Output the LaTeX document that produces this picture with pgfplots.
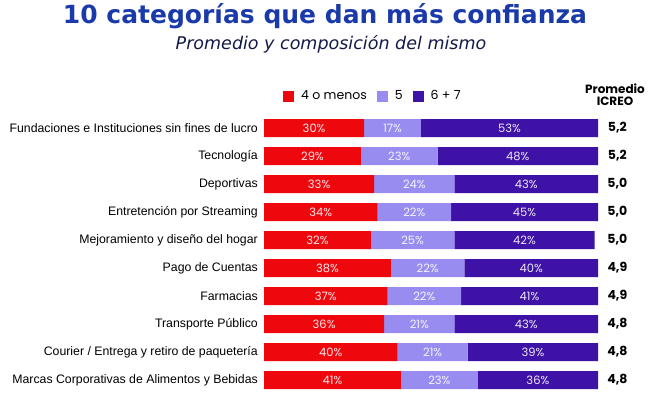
\documentclass[border=0pt]{standalone}
\usepackage{fontspec}
\setmainfont{Liberation Sans}
\newfontfamily\pop{Poppins}
\newfontfamily\dvs{DejaVu Sans}
\usepackage{pgfplots}
\pgfplotsset{compat=1.18}
\definecolor{cRed}{RGB}{238,8,14}
\definecolor{cLight}{RGB}{152,140,240}
\definecolor{cDark}{RGB}{62,18,166}
\definecolor{cTitle}{RGB}{26,58,170}
\definecolor{cSub}{RGB}{20,24,70}
\begin{document}
\begin{tikzpicture}
\path[use as bounding box] (0,0) rectangle (650pt,-400pt);
\node[font=\dvs\bfseries\fontsize{25}{28}\selectfont, text=cTitle] at (325pt,-16pt) {10 categorías que dan más confianza};
\node[font=\dvs\itshape\fontsize{17.5}{20}\selectfont, text=cSub] at (331pt,-44pt) {Promedio y composición del mismo};
\node[font=\pop\bfseries\fontsize{12}{14}\selectfont, align=center] at (615pt,-95pt) {Promedio\\[-2pt]ICREO};
\begin{axis}[
  at={(264pt,-394pt)}, anchor=south west,
  scale only axis, width=334pt, height=280pt,
  xbar stacked, bar width=18pt,
  xmin=0, xmax=100, ymin=-0.5, ymax=9.5, y dir=reverse,
  axis line style={draw=none}, tick style={draw=none}, major tick length=0pt,
  xtick=\empty, ytick={0,...,9},
  yticklabels={Fundaciones e Instituciones sin fines de lucro, Tecnología, Deportivas, Entretención por Streaming, Mejoramiento y diseño del hogar, Pago de Cuentas, Farmacias, Transporte Público, Courier / Entrega y retiro de paquetería, Marcas Corporativas de Alimentos y Bebidas},
  y tick label style={font=\fontsize{12.3}{14}\selectfont, inner sep=0pt, anchor=east, xshift=-6pt},
  legend columns=3,
  legend style={at={(0.326,1.064)}, anchor=center, draw=none, fill=none,
    font=\pop\fontsize{12.5}{14}\selectfont, column sep=5pt, inner sep=0pt,
    /tikz/every even column/.append style={column sep=8pt}},
  legend image code/.code={\fill[#1] (0pt,-5.5pt) rectangle (11pt,5.5pt);},
]
\addplot[fill=cRed, draw=none] coordinates {(30,0) (29,1) (33,2) (34,3) (32,4) (38,5) (37,6) (36,7) (40,8) (41,9)};
\addplot[fill=cLight, draw=none] coordinates {(17,0) (23,1) (24,2) (22,3) (25,4) (22,5) (22,6) (21,7) (21,8) (23,9)};
\addplot[fill=cDark, draw=none] coordinates {(53,0) (48,1) (43,2) (45,3) (42,4) (40,5) (41,6) (43,7) (39,8) (36,9)};
\legend{4 o menos, 5, 6 + 7}
\end{axis}
\begin{axis}[
  at={(264pt,-394pt)}, anchor=south west,
  scale only axis, width=334pt, height=280pt,
  xmin=0, xmax=100, ymin=-0.5, ymax=9.5, y dir=reverse,
  hide axis, clip=false,
  nodes near coords, point meta=explicit symbolic,
  every node near coord/.append style={anchor=center, font=\pop\fontsize{11.5}{13}\selectfont, text=white, text opacity=0.9},
]
\addplot[draw=none, mark=none] coordinates {(15,0)[30\%] (14.5,1)[29\%] (16.5,2)[33\%] (17,3)[34\%] (16,4)[32\%] (19,5)[38\%] (18.5,6)[37\%] (18,7)[36\%] (20,8)[40\%] (20.5,9)[41\%]};
\addplot[draw=none, mark=none] coordinates {(38.5,0)[17\%] (40.5,1)[23\%] (45,2)[24\%] (45,3)[22\%] (44.5,4)[25\%] (49,5)[22\%] (48,6)[22\%] (46.5,7)[21\%] (50.5,8)[21\%] (52.5,9)[23\%]};
\addplot[draw=none, mark=none] coordinates {(73.5,0)[53\%] (76,1)[48\%] (78.5,2)[43\%] (78,3)[45\%] (78,4)[42\%] (80,5)[40\%] (79.5,6)[41\%] (78.5,7)[43\%] (80.5,8)[39\%] (82,9)[36\%]};
\addplot[draw=none, mark=none, every node near coord/.append style={text=black, text opacity=1, font=\pop\bfseries\fontsize{12.5}{14}\selectfont}] coordinates {(105.8,0)[5,2] (105.8,1)[5,2] (105.8,2)[5,0] (105.8,3)[5,0] (105.8,4)[5,0] (105.8,5)[4,9] (105.8,6)[4,9] (105.8,7)[4,8] (105.8,8)[4,8] (105.8,9)[4,8]};
\end{axis}
\end{tikzpicture}
\end{document}
